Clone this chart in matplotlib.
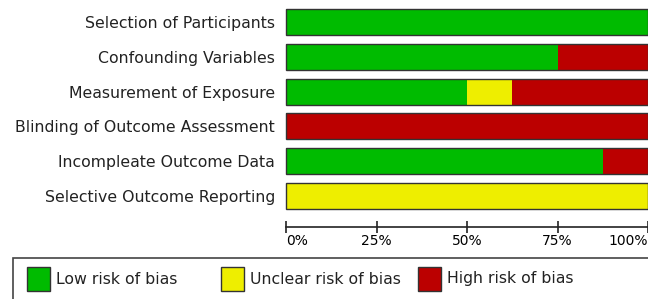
import matplotlib
matplotlib.use("Agg")
import matplotlib.pyplot as plt
from matplotlib.patches import Rectangle

domains = [
    "Selection of Participants",
    "Confounding Variables",
    "Measurement of Exposure",
    "Blinding of Outcome Assessment",
    "Incompleate Outcome Data",
    "Selective Outcome Reporting",
]
low = [100, 75, 50, 0, 87.5, 0]
unclear = [0, 0, 12.5, 0, 0, 100]
high = [0, 25, 37.5, 100, 12.5, 0]

risk_labels = ["Low risk of bias", "Unclear risk of bias", "High risk of bias"]
colors = ["#00bb00", "#eeee00", "#bb0000"]
ticks = [0, 25, 50, 75, 100]

plt.rcParams["font.family"] = ["DejaVu Sans"]
FS = 11.3

W, H = 648, 299
fig = plt.figure(figsize=(W / 100, H / 100), dpi=100)
# axes covers the bar area: x 286..648, y ~5..213 px
ax = fig.add_axes([286 / W, 1 - 213 / H, 362 / W, 208 / H])

ypos = list(range(len(domains)))
h = 0.75
left = [0] * len(domains)
for vals, col in zip([low, unclear, high], colors):
    ax.barh(ypos, vals, left=left, height=h, color=col, edgecolor="none")
    left = [a + b for a, b in zip(left, vals)]
for y in ypos:
    ax.add_patch(Rectangle((0, y - h / 2), 100, h, fill=False,
                           edgecolor="#333333", linewidth=1.0, clip_on=False))

ax.set_xlim(0, 100)
ax.set_ylim(len(domains) - 0.5, -0.5)
ax.set_yticks(ypos)
ax.set_yticklabels(domains, fontsize=FS, color="#222222")
ax.tick_params(axis="y", length=0, pad=8)
ax.set_xticks(ticks)
ax.set_xticklabels([f"{t}%" for t in ticks], fontsize=FS, color="#222222")
ax.tick_params(axis="x", direction="inout", length=8, width=1.2, pad=1,
               color="#222222")
for s in ["top", "right", "left"]:
    ax.spines[s].set_visible(False)
ax.spines["bottom"].set_position(("outward", 10))
ax.spines["bottom"].set_linewidth(1.2)
ax.spines["bottom"].set_color("#222222")

# first label sits right of its tick, last one left of it
fig.canvas.draw()
xt = ax.xaxis.get_major_ticks()
xt[0].label1.set_horizontalalignment("left")
xt[-1].label1.set_horizontalalignment("right")

# legend frame that runs off the right and bottom edges
fig.patches.append(Rectangle((13 / W, -0.05), 1.0, (H - 258) / H + 0.05,
                             transform=fig.transFigure, fill=False,
                             edgecolor="#444444", linewidth=1.2))
# legend entries (pixel x of each swatch)
swatch_x = [27, 221, 418]
for x0, col, lab in zip(swatch_x, colors, risk_labels):
    fig.patches.append(Rectangle((x0 / W, 1 - 291 / H), 23 / W, 24 / H,
                                 transform=fig.transFigure, facecolor=col,
                                 edgecolor="#333333", linewidth=1.0))
    fig.text((x0 + 29) / W, 1 - 279 / H, lab, fontsize=FS, color="#222222",
             va="center", ha="left")

fig.savefig("out.png", dpi=100)
